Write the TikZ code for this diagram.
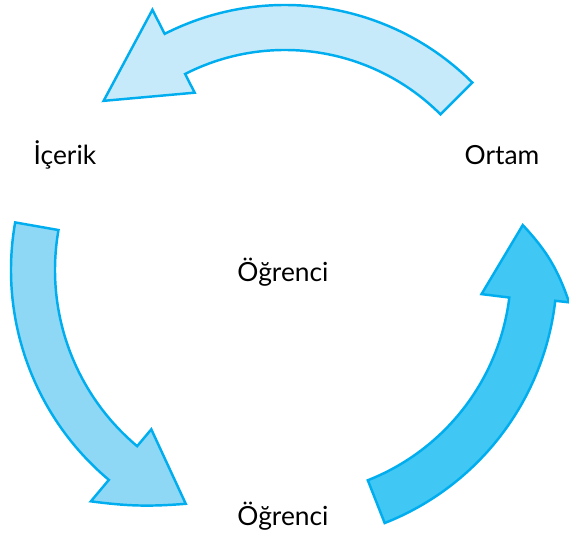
\documentclass[tikz,border=0pt]{standalone}
\usepackage{fontspec}
\setmainfont{Lato}
\usepackage{tikz}
\usetikzlibrary{positioning}

\definecolor{ringline}{HTML}{00AEEF}
\definecolor{topfill}{HTML}{C6EAF9}
\definecolor{leftfill}{HTML}{8ED8F6}
\definecolor{rightfill}{HTML}{40C7F4}

\begin{document}
\begin{tikzpicture}[
  x=0.02cm, y=0.02cm,
  bigarrow/.style={draw=ringline, line width=1.4pt, line join=miter},
  lbl/.style={font=\fontsize{15}{18}\selectfont, anchor=base, inner sep=0pt}
]
\useasboundingbox (-285,-266) rectangle (284,270);
% top arrow: Ortam -> Icerik
\draw[bigarrow, fill=topfill] (45:265) arc[start angle=45, end angle=117, radius=265]
  -- (117:292) -- (137:248) -- (117:199) -- (117:220)
  arc[start angle=117, end angle=45, radius=220] -- cycle;
% left arrow: Icerik -> Ogrenci
\draw[bigarrow, fill=leftfill] (170:274) arc[start angle=170, end angle=230, radius=274]
  -- (230:302) to[bend right=6] (247:254) -- (230:208) -- (230:230)
  arc[start angle=230, end angle=170, radius=230] -- cycle;
% right arrow: Ogrenci -> Ortam
\draw[bigarrow, fill=rightfill] (-68.5:272) arc[start angle=-68.5, end angle=-6.5, radius=272]
  -- (-6.5:286) to[bend right=12] (10.7:242) -- (-7:198) -- (-7:226)
  arc[start angle=-7, end angle=-68.5, radius=226] -- cycle;

\node[lbl] (icerik) at (-220,105) {İçerik};
\node[lbl] (ortam) at (217,105) {Ortam};
\node[lbl] (ogrenci) at (-2,-12) {Öğrenci};
\node[lbl] (ogrencialt) at (-2,-256) {Öğrenci};
\end{tikzpicture}
\end{document}
